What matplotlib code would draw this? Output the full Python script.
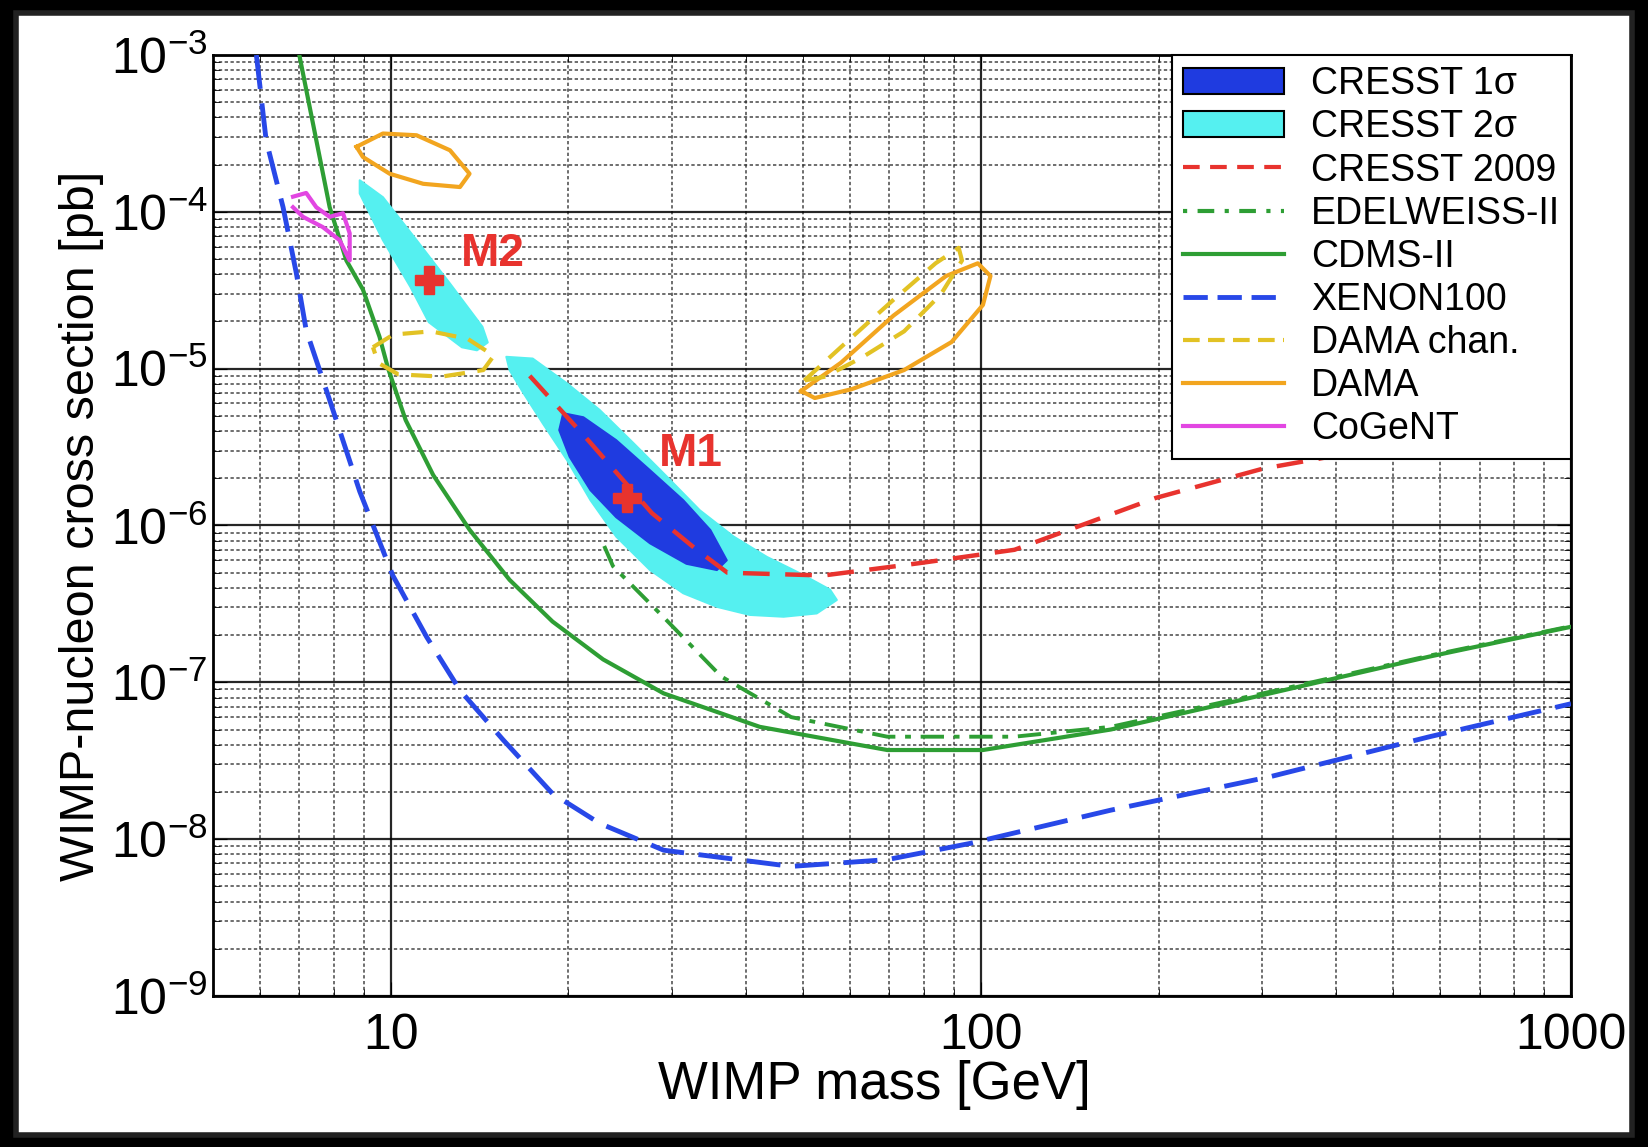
import numpy as np
import matplotlib
matplotlib.use("Agg")
import matplotlib.pyplot as plt
from matplotlib.patches import Polygon, Patch, Rectangle
from matplotlib.lines import Line2D
from matplotlib.ticker import LogLocator, NullFormatter, FixedLocator

plt.rcParams['font.family'] = ['Liberation Sans', 'DejaVu Sans']
plt.rcParams['mathtext.fontset'] = 'custom'
plt.rcParams['mathtext.rm'] = 'Liberation Sans'
plt.rcParams['mathtext.it'] = 'Liberation Sans:italic'

# exclusion limits (mass GeV, cross section pb)
xenon_m = [5.92, 6.15, 6.57, 6.92, 7.19, 7.88, 8.86, 10.08, 11.5, 13.1, 15.5, 18.8, 22.6, 29.0,
           47.7, 69.4, 96, 166, 309, 576, 1000]
xenon_s = [1e-3, 2.86e-4, 1.07e-4, 4.05e-5, 1.76e-5, 6.3e-6, 1.65e-6, 4.8e-7, 1.95e-7, 8.9e-8,
           4.3e-8, 1.95e-8, 1.26e-8, 8.5e-9, 6.7e-9, 7.4e-9, 9.4e-9, 1.53e-8, 2.5e-8, 4.5e-8, 7.3e-8]

cdms_m = [7.0, 7.48, 7.88, 8.41, 8.97, 9.57, 9.9, 10.6, 11.8, 13.6, 15.9, 18.8, 22.9, 29.0, 42.2,
          69.4, 100.8, 166, 309, 576, 1000]
cdms_s = [1e-3, 2.86e-4, 1.07e-4, 4.9e-5, 3.2e-5, 1.6e-5, 1.0e-5, 4.7e-6, 2.1e-6, 9.4e-7, 4.5e-7,
          2.44e-7, 1.4e-7, 8.5e-8, 5.2e-8, 3.7e-8, 3.7e-8, 5.0e-8, 8.5e-8, 1.46e-7, 2.26e-7]

edel_m = [23.0, 23.8, 29.0, 36.3, 47.7, 69.4, 114, 166, 309, 576, 1000]
edel_s = [7.4e-7, 5.5e-7, 2.6e-7, 1.09e-7, 6.0e-8, 4.5e-8, 4.5e-8, 5.2e-8, 8.7e-8, 1.48e-7, 2.28e-7]

cresst09_m = [17.2, 21.6, 27.7, 33.0, 37.2, 54.1, 78.6, 114, 198, 300, 490, 1000]
cresst09_s = [9e-6, 3.5e-6, 1.2e-6, 7.0e-7, 5.0e-7, 4.8e-7, 5.75e-7, 7.0e-7, 1.5e-6, 2.3e-6, 3.2e-6, 5e-6]

# CRESST allowed regions
m1_2s_m = [15.7, 17.4, 19.9, 22.6, 25.8, 29.4, 33.4, 38.1, 43.4, 49.4, 55.5, 57.0, 52.7, 46.3,
           40.6, 35.7, 31.3, 27.5, 24.1, 21.8, 19.9, 18.1, 16.8, 15.9]
m1_2s_s = [1.19e-5, 1.16e-5, 8.05e-6, 5.45e-6, 3.34e-6, 2.04e-6, 1.25e-6, 8.5e-7, 6.3e-7, 4.95e-7,
           3.9e-7, 3.35e-7, 2.75e-7, 2.62e-7, 2.69e-7, 3.03e-7, 3.7e-7, 5.2e-7, 8.5e-7, 1.45e-6,
           2.61e-6, 4.48e-6, 6.95e-6, 9.8e-6]
m1_1s_m = [19.6, 21.2, 24.1, 27.5, 31.3, 34.8, 37.1, 35.7, 31.7, 27.5, 24.1, 21.8, 20.1, 19.3]
m1_1s_s = [5.2e-6, 4.9e-6, 3.5e-6, 2.25e-6, 1.45e-6, 9.35e-7, 6.0e-7, 5.2e-7, 5.7e-7, 7.7e-7,
           1.13e-6, 1.68e-6, 2.74e-6, 4.06e-6]
m2_2s_m = [8.86, 9.70, 11.06, 12.6, 14.3, 14.6, 14.0, 13.2, 11.6, 10.8, 9.70, 8.86]
m2_2s_s = [1.59e-4, 1.24e-4, 6.6e-5, 3.49e-5, 1.85e-5, 1.47e-5, 1.31e-5, 1.37e-5, 1.98e-5,
           3.32e-5, 6.6e-5, 1.31e-4]

best_m = [11.6, 25.1]
best_s = [3.67e-5, 1.5e-6]
best_names = ["M2", "M1"]
label_m = [14.9, 32.2]
label_s = [5.4e-5, 2.85e-6]

# DAMA / CoGeNT contours
dama_lo_m = [8.75, 9.7, 11.06, 12.6, 13.6, 13.1, 11.35, 9.96, 8.97, 8.75]
dama_lo_s = [2.6e-4, 3.16e-4, 3.08e-4, 2.47e-4, 1.75e-4, 1.44e-4, 1.51e-4, 1.75e-4, 2.24e-4, 2.6e-4]
dama_hi_m = [49.6, 57.9, 71.1, 87.3, 98.8, 103.8, 100.8, 89.2, 74.1, 60.4, 52.3, 49.6]
dama_hi_s = [7.2e-6, 1.09e-5, 2.18e-5, 3.9e-5, 4.7e-5, 3.9e-5, 2.55e-5, 1.48e-5, 9.8e-6, 7.4e-6, 6.5e-6, 7.2e-6]
chan_lo_m = [9.33, 10.1, 11.7, 13.5, 14.95, 14.35, 12.2, 10.3, 9.52, 9.33]
chan_lo_s = [1.37e-5, 1.65e-5, 1.73e-5, 1.55e-5, 1.21e-5, 9.8e-6, 8.9e-6, 9.2e-6, 1.09e-5, 1.37e-5]
chan_hi_m = [50.2, 57.9, 71.1, 83.8, 91.7, 92.9, 85.5, 74.1, 62.9, 54.5, 50.2]
chan_hi_s = [8.4e-6, 1.37e-5, 2.75e-5, 4.7e-5, 5.9e-5, 4.9e-5, 2.97e-5, 1.73e-5, 1.18e-5, 8.9e-6, 8.4e-6]
cogent_m = [6.83, 7.19, 7.48, 7.88, 8.3, 8.52, 8.52, 8.19, 7.67, 7.10, 6.83]
cogent_s = [1.25e-4, 1.32e-4, 1.07e-4, 9.3e-5, 9.8e-5, 7.3e-5, 4.9e-5, 6.6e-5, 8.0e-5, 9.3e-5, 1.07e-4]

yticks = [1e-9, 1e-8, 1e-7, 1e-6, 1e-5, 1e-4, 1e-3]
ytick_labels = [r'$10^{-9}$', r'$10^{-8}$', r'$10^{-7}$', r'$10^{-6}$', r'$10^{-5}$', r'$10^{-4}$', r'$10^{-3}$']
xticks = [10, 100, 1000]
xtick_labels = ['10', '100', '1000']

dark_blue = '#1f3be0'
cyan = '#55f0f0'
red = '#e8332e'
green = '#2e9e34'
blue = '#2848e8'
gold = '#e2c224'
orange = '#f2a51f'
magenta = '#e246e2'

fig = plt.figure(figsize=(16.48, 11.47), dpi=100, facecolor='black')
fig.patches.append(Rectangle((0.0097, 0.0105), 0.9805, 0.978, transform=fig.transFigure,
                             facecolor='white', edgecolor='#222222', linewidth=4, zorder=-10))
ax = fig.add_axes([0.1293, 0.1317, 0.824, 0.8203])
ax.set_xscale('log')
ax.set_yscale('log')
ax.set_xlim(5, 1000)
ax.set_ylim(1e-9, 1e-3)

ax.xaxis.set_major_locator(FixedLocator(xticks))
ax.set_xticklabels(xtick_labels)
ax.yaxis.set_major_locator(FixedLocator(yticks))
ax.set_yticklabels(ytick_labels)
ax.xaxis.set_minor_locator(LogLocator(base=10, subs=np.arange(2, 10)))
ax.yaxis.set_minor_locator(LogLocator(base=10, subs=np.arange(2, 10), numticks=20))
ax.xaxis.set_minor_formatter(NullFormatter())
ax.yaxis.set_minor_formatter(NullFormatter())
ax.grid(True, which='major', color='black', linewidth=1.6, linestyle='-', alpha=0.85)
ax.grid(True, which='minor', color='#2a2a2a', linewidth=1.2, linestyle=(0, (2, 1.5)), alpha=0.8)
ax.set_axisbelow(True)
ax.tick_params(which='both', direction='in', top=True, right=True)
ax.tick_params(which='major', length=10, labelsize=36)
ax.tick_params(axis='y', which='major', pad=4)
ax.tick_params(axis='x', which='major', pad=12)
ax.tick_params(which='minor', length=5)
for s in ax.spines.values():
    s.set_linewidth(2)

ax.add_patch(Polygon(np.column_stack([m1_2s_m, m1_2s_s]), closed=True, facecolor=cyan, edgecolor=cyan,
                     linewidth=1.5, joinstyle='round', zorder=3))
ax.add_patch(Polygon(np.column_stack([m2_2s_m, m2_2s_s]), closed=True, facecolor=cyan, edgecolor=cyan,
                     linewidth=1.5, joinstyle='round', zorder=3))
ax.add_patch(Polygon(np.column_stack([m1_1s_m, m1_1s_s]), closed=True, facecolor=dark_blue, edgecolor=dark_blue,
                     linewidth=1.5, joinstyle='round', zorder=4))

ax.plot(xenon_m, xenon_s, color=blue, lw=3.5, ls=(0, (7, 3)), zorder=5)
ax.plot(cdms_m, cdms_s, color=green, lw=3, zorder=5, solid_joinstyle='round')
ax.plot(edel_m, edel_s, color=green, lw=2.8, ls=(0, (6, 2.5, 1.5, 2.5)), zorder=5)
ax.plot(cresst09_m, cresst09_s, color=red, lw=3.2, ls=(0, (6, 3.5)), zorder=6)
ax.plot(dama_lo_m, dama_lo_s, color=orange, lw=3, zorder=5, solid_joinstyle='round')
ax.plot(dama_hi_m, dama_hi_s, color=orange, lw=3, zorder=5, solid_joinstyle='round')
ax.plot(chan_lo_m, chan_lo_s, color=gold, lw=3, ls=(0, (5, 3)), zorder=5)
ax.plot(chan_hi_m, chan_hi_s, color=gold, lw=3, ls=(0, (5, 3)), zorder=5)
ax.plot(cogent_m, cogent_s, color=magenta, lw=3, zorder=5, solid_joinstyle='round')

ax.plot(best_m, best_s, linestyle='none', marker='P', markersize=20, color=red, zorder=7)
for name, lm, ls_ in zip(best_names, label_m, label_s):
    ax.text(lm, ls_, name, color=red, fontsize=33, fontweight='bold', ha='center', va='center', zorder=7)

ax.set_xlabel('WIMP mass [GeV]', fontsize=38)
ax.xaxis.set_label_coords(0.487, -0.068)
ax.set_ylabel('WIMP-nucleon cross section [pb]', fontsize=35)
ax.yaxis.set_label_coords(-0.08, 0.5)

handles = [
    Patch(facecolor=dark_blue, edgecolor='black', linewidth=1.5),
    Patch(facecolor=cyan, edgecolor='black', linewidth=1.5),
    Line2D([], [], color=red, lw=3, ls=(0, (4, 2.5))),
    Line2D([], [], color=green, lw=3, ls=(0, (1, 2.5, 4, 2.5))),
    Line2D([], [], color=green, lw=3),
    Line2D([], [], color=blue, lw=3.5, ls=(0, (5, 2))),
    Line2D([], [], color=gold, lw=3, ls=(0, (4, 2))),
    Line2D([], [], color=orange, lw=3),
    Line2D([], [], color=magenta, lw=3),
]
labels = ['CRESST 1σ', 'CRESST 2σ', 'CRESST 2009', 'EDELWEISS-II', 'CDMS-II',
          'XENON100', 'DAMA chan.', 'DAMA', 'CoGeNT']
leg = ax.legend(handles, labels, loc='upper right', fontsize=27, frameon=True, fancybox=False,
                framealpha=1, edgecolor='black', handlelength=2.7, handleheight=0.7,
                labelspacing=0.19, borderaxespad=0, borderpad=0.3, handletextpad=0.7)
leg.get_frame().set_linewidth(1.5)
leg.set_zorder(10)

fig.savefig('out.png', dpi=100, facecolor='black')
